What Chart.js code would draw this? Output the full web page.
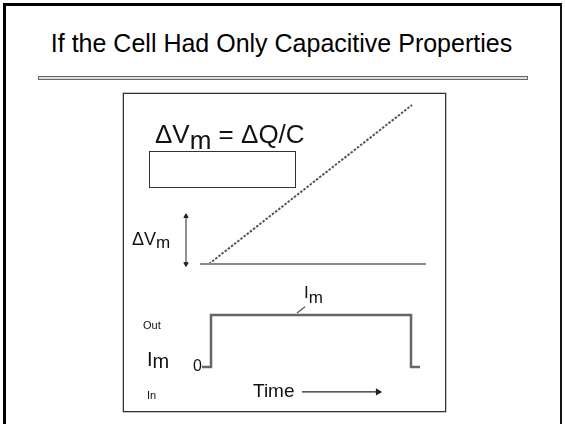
<!DOCTYPE html>
<html>
<head>
<meta charset="utf-8">
<script src="https://cdn.jsdelivr.net/npm/chart.js@4"></script>
<style>
  html, body { margin: 0; padding: 0; background: #fff; }
  body { width: 565px; height: 424px; position: relative; overflow: hidden;
         font-family: "Liberation Sans", Arial, sans-serif; color: #111; }
  .slide { position: absolute; left: 3px; top: 3px; width: 554px; height: 440px;
           border-left: 3px solid #000; border-top: 3px solid #000; border-right: 2px solid #111; }
  .title { position: absolute; left: 0; width: 563px; top: 31px; text-align: center;
           font-size: 25px; line-height: 25px; color: #000; white-space: nowrap; }
  .rule { position: absolute; left: 38px; top: 76px; width: 488px; height: 2px;
          border: 1px solid #666; background: #ddd; }
  .frame { position: absolute; left: 123px; top: 93px; width: 321px; height: 317px;
           border: 1px solid #333; box-shadow: 0 0 0 0.5px #888; }
  #trace { position: absolute; left: 124px; top: 94px; }
  .lbl { position: absolute; white-space: nowrap; }
  .lbl sub { vertical-align: baseline; position: relative; font-size: inherit; }
  .box { position: absolute; left: 149px; top: 151px; width: 145px; height: 35px;
         border: 1px solid #333; background: #fff; }
</style>
</head>
<body>
<div class="slide"></div>
<div class="title">If the Cell Had Only Capacitive Properties</div>
<div class="rule"></div>
<div class="frame"></div>
<canvas id="trace" width="321" height="317"></canvas>

<div class="lbl" style="left:155px; top:121px; font-size:26px; line-height:26px;">&Delta;V<sub style="top:6px;">m</sub> = &Delta;Q/C</div>
<div class="box"></div>
<div class="lbl" style="left:132px; top:230px; font-size:18px; line-height:18px;">&Delta;V<sub style="top:3px; font-size:17px;">m</sub></div>
<div class="lbl" style="left:304px; top:284px; font-size:17px; line-height:17px;">I<sub style="top:5px;">m</sub></div>
<div class="lbl" style="left:143px; top:320px; font-size:11px; line-height:11px;">Out</div>
<div class="lbl" style="left:147px; top:349px; font-size:20px; line-height:20px;">I<sub style="top:2px;">m</sub></div>
<div class="lbl" style="left:193px; top:358px; font-size:16px; line-height:16px;">0</div>
<div class="lbl" style="left:147px; top:390px; font-size:11px; line-height:11px;">In</div>
<div class="lbl" style="left:253px; top:381px; font-size:19px; line-height:19px;">Time</div>

<script>
// time in ms; current pulse switches on at 0 and off at 100
const stepTime = [-4.5, 0, 0, 100, 100, 104.5];
const stepCurrent = [0, 0, 1, 1, 0, 0];

// membrane potential charging linearly during the pulse
const rampTime = [-1, 100.5];
const rampVolts = [0, 10];
const baseTime = [-5.5, 107.5];
const baseVolts = [0, 0];

// ΔVm scale arrow, leader to the Im label, time arrow
const dvArrowTime = [-12.5, -12.5];
const dvArrowVolts = [0, 3];
const leaderTime = [43, 47];
const leaderCurrent = [1.04, 1.16];
const timeArrowTime = [45.5, 83.5];
const timeArrowCurrent = [-0.48, -0.48];

const pts = (xs, ys) => xs.map((x, i) => ({ x: x, y: ys[i] }));

new Chart(document.getElementById('trace'), {
  type: 'scatter',
  data: {
    datasets: [
      { data: pts(baseTime, baseVolts), yAxisID: 'yV', showLine: true,
        borderColor: '#8a8a8a', borderWidth: 2, pointRadius: 0 },
      { data: pts(rampTime, rampVolts), yAxisID: 'yV', showLine: true,
        borderColor: '#555', borderWidth: 2, borderDash: [2.5, 1.5], pointRadius: 0 },
      { data: pts(dvArrowTime, dvArrowVolts), yAxisID: 'yV', showLine: true,
        borderColor: '#222', borderWidth: 1, pointStyle: 'triangle',
        pointRotation: [180, 0], pointRadius: 2.5, backgroundColor: '#222', borderCapStyle: 'butt' },
      { data: pts(stepTime, stepCurrent), yAxisID: 'yI', showLine: true,
        borderColor: '#666', borderWidth: 2.5, pointRadius: 0, borderJoinStyle: 'miter' },
      { data: pts(leaderTime, leaderCurrent), yAxisID: 'yI', showLine: true,
        borderColor: '#555', borderWidth: 1.2, pointRadius: 0 },
      { data: pts(timeArrowTime, timeArrowCurrent), yAxisID: 'yI', showLine: true,
        borderColor: '#222', borderWidth: 1.2, pointStyle: 'triangle',
        pointRotation: 90, pointRadius: [0, 3], backgroundColor: '#222' }
    ]
  },
  options: {
    responsive: false,
    animation: false,
    layout: { padding: 0, autoPadding: false },
    plugins: { legend: { display: false }, tooltip: { enabled: false } },
    scales: {
      x: { type: 'linear', display: false, min: -43.5, max: 117 },
      yV: { type: 'linear', display: false, min: -9.25, max: 10.69 },
      yI: { type: 'linear', display: false, min: -0.846, max: 5.25 }
    }
  }
});
</script>
</body>
</html>
